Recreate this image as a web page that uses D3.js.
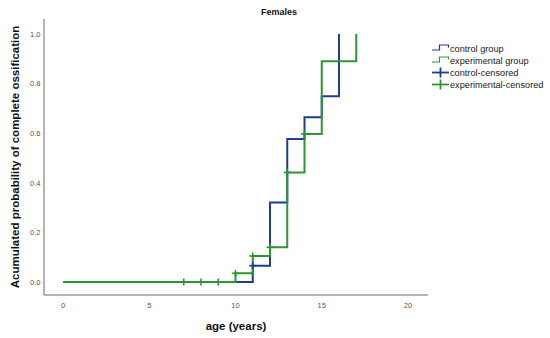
<!DOCTYPE html>
<html lang="en">
<head>
  <meta charset="UTF-8">
  <title>Females</title>
  <script src="https://d3js.org/d3.v7.min.js"></script>
  <style>
    body { margin: 0; background: #fff; }
    svg { font-family: "Liberation Sans", Arial, sans-serif; }
  </style>
</head>
<body>
  <svg id="chart" width="550" height="338"></svg>
  <script>
    // cumulative probability steps
    const controlAge = [0, 11, 12, 13, 14, 15, 16];
    const controlProb = [0, 0.066, 0.321, 0.577, 0.664, 0.749, 1.0];
    const expAge = [0, 10, 11, 12, 13, 14, 15, 17];
    const expProb = [0, 0.035, 0.105, 0.14, 0.442, 0.597, 0.89, 1.0];

    // censored marks
    const controlCensAge = [11];
    const controlCensProb = [0.066];
    const expCensAge = [7, 8, 9, 10, 11, 12, 13, 14];
    const expCensProb = [0, 0, 0, 0.035, 0.105, 0.14, 0.442, 0.597];

    const xTicks = [0, 5, 10, 15, 20];
    const yTicks = [0, 0.2, 0.4, 0.6, 0.8, 1.0];
    const legendLabels = ["control group", "experimental group", "control-censored", "experimental-censored"];

    const blue = "#1f3d92";
    const green = "#2b9632";

    const svg = d3.select("#chart");
    const x = d3.scaleLinear().domain([0, 20]).range([63, 408]);
    const y = d3.scaleLinear().domain([0, 1]).range([282, 34]);

    // axis lines
    svg.append("line").attr("x1", 44).attr("x2", 44).attr("y1", 19).attr("y2", 295)
      .attr("stroke", "#6b6b6b").attr("stroke-width", 1);
    svg.append("line").attr("x1", 44).attr("x2", 428).attr("y1", 295).attr("y2", 295)
      .attr("stroke", "#6b6b6b").attr("stroke-width", 1);

    // tick labels
    svg.selectAll(".ytick").data(yTicks).enter().append("text")
      .attr("x", 40.5).attr("y", d => y(d) + 2.7)
      .attr("text-anchor", "end").attr("font-size", 7.5).attr("fill", "#555")
      .text(d => d.toFixed(1));
    svg.selectAll(".xtick").data(xTicks).enter().append("text")
      .attr("x", d => x(d)).attr("y", 308)
      .attr("text-anchor", "middle").attr("font-size", 7.5).attr("fill", "#555")
      .text(d => d);

    // titles
    svg.append("text").attr("x", 279).attr("y", 15).attr("text-anchor", "middle")
      .attr("font-size", 9).attr("font-weight", "bold").attr("fill", "#111").text("Females");
    svg.append("text").attr("x", 236).attr("y", 330).attr("text-anchor", "middle")
      .attr("font-size", 11.5).attr("font-weight", "bold").attr("fill", "#111").text("age (years)");
    svg.append("text").attr("transform", "translate(19,157) rotate(-90)").attr("text-anchor", "middle")
      .attr("font-size", 11.5).attr("font-weight", "bold").attr("fill", "#111")
      .text("Acumulated probability of complete ossification");

    // step curves
    const step = d3.line().x(d => x(d[0])).y(d => y(d[1])).curve(d3.curveStepAfter);
    const series = [
      { pts: d3.zip(controlAge, controlProb), color: blue },
      { pts: d3.zip(expAge, expProb), color: green }
    ];
    svg.selectAll(".curve").data(series).enter().append("path")
      .attr("d", d => step(d.pts))
      .attr("fill", "none").attr("stroke", d => d.color).attr("stroke-width", 2);

    // censor crosses
    const arm = 3.5;
    function crosses(ages, probs, color) {
      const g = svg.append("g").attr("stroke", color).attr("stroke-width", 1.6);
      d3.zip(ages, probs).forEach(([a, p]) => {
        g.append("line").attr("x1", x(a) - arm).attr("x2", x(a) + arm).attr("y1", y(p)).attr("y2", y(p));
        g.append("line").attr("x1", x(a)).attr("x2", x(a)).attr("y1", y(p) - arm).attr("y2", y(p) + arm);
      });
    }
    crosses(controlCensAge, controlCensProb, blue);
    crosses(expCensAge, expCensProb, green);

    // legend
    const legendY = [48.5, 60.5, 72.5, 84.5];
    const lg = svg.append("g");
    legendLabels.forEach((lab, i) => {
      const cy = legendY[i];
      const col = i % 2 === 0 ? blue : green;
      if (i < 2) {
        lg.append("path")
          .attr("d", `M432,${cy + 1.5}H439.5V${cy - 3.5}H448.5V${cy - 1}`)
          .attr("fill", "none").attr("stroke", col).attr("stroke-width", 1.2);
      } else {
        lg.append("line").attr("x1", 432).attr("x2", 449).attr("y1", cy).attr("y2", cy)
          .attr("stroke", col).attr("stroke-width", 1.8);
        lg.append("line").attr("x1", 440.5).attr("x2", 440.5).attr("y1", cy - 5).attr("y2", cy + 5)
          .attr("stroke", col).attr("stroke-width", 1.8);
      }
      lg.append("text").attr("x", 450).attr("y", cy + 3.2)
        .attr("font-size", 9.2).attr("fill", "#222").text(lab);
    });
  </script>
</body>
</html>
